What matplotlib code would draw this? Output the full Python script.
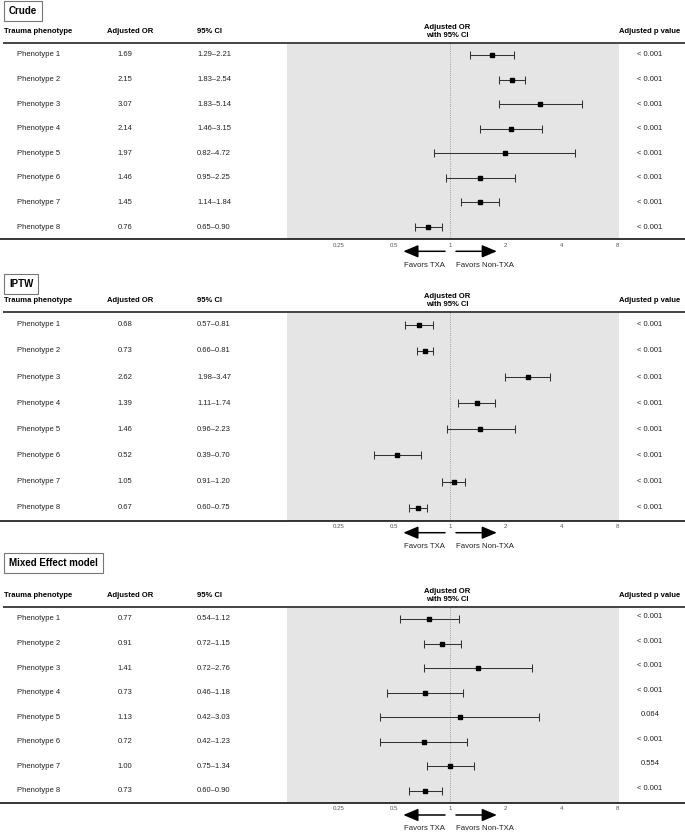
import matplotlib
matplotlib.use("Agg")
import matplotlib.pyplot as plt
from matplotlib.transforms import blended_transform_factory as blend

plt.rcParams['font.family'] = ['Liberation Sans', 'DejaVu Sans']

phenotypes = ["Phenotype %d" % i for i in range(1, 9)]

crude_or = [1.69, 2.15, 3.07, 2.14, 1.97, 1.46, 1.45, 0.76]
crude_lo = [1.29, 1.83, 1.83, 1.46, 0.82, 0.95, 1.14, 0.65]
crude_hi = [2.21, 2.54, 5.14, 3.15, 4.72, 2.25, 1.84, 0.90]
crude_p = ["< 0.001"] * 8

iptw_or = [0.68, 0.73, 2.62, 1.39, 1.46, 0.52, 1.05, 0.67]
iptw_lo = [0.57, 0.66, 1.98, 1.11, 0.96, 0.39, 0.91, 0.60]
iptw_hi = [0.81, 0.81, 3.47, 1.74, 2.23, 0.70, 1.20, 0.75]
iptw_p = ["< 0.001"] * 8

mixed_or = [0.77, 0.91, 1.41, 0.73, 1.13, 0.72, 1.00, 0.73]
mixed_lo = [0.54, 0.72, 0.72, 0.46, 0.42, 0.42, 0.75, 0.60]
mixed_hi = [1.12, 1.15, 2.76, 1.18, 3.03, 1.23, 1.34, 0.90]
mixed_p = ["< 0.001", "< 0.001", "< 0.001", "< 0.001", "0.064", "< 0.001", "0.554", "< 0.001"]

ticks = [0.25, 0.5, 1, 2, 4, 8]
tick_labels = ["0.25", "0.5", "1", "2", "4", "8"]

W, H = 685, 833
fig = plt.figure(figsize=(W / 100, H / 100), dpi=100)

# panel: title, box center y, top line y, bottom line y (pixels), data, p offset
panels = [
    ("Crude", 11, 42.7, 239.3, crude_or, crude_lo, crude_hi, crude_p, 0.0),
    ("IPTW", 284, 311.7, 520.7, iptw_or, iptw_lo, iptw_hi, iptw_p, 0.0),
    ("Mixed Effect model", 563, 606.7, 803.0, mixed_or, mixed_lo, mixed_hi, mixed_p, -0.1),
]

x0, x1 = 287, 619
xlo = 2 ** ((x0 - 450) / 55.8)
xhi = 2 ** ((x1 - 450) / 55.8)
txt = '#222222'

for title, box_y, top, bot, orv, lo, hi, pv, poff in panels:
    hpx = bot - top
    rowh = hpx / 8
    ax = fig.add_axes([x0 / W, 1 - bot / H, (x1 - x0) / W, hpx / H])
    ax.set_facecolor('#e5e5e5')
    ax.set_xscale('log', base=2)
    ax.set_xlim(xlo, xhi)
    ax.set_ylim(8.5, 0.5)
    for s in ax.spines.values():
        s.set_visible(False)
    ax.set_yticks([])
    ax.set_xticks(ticks)
    ax.set_xticklabels(tick_labels)
    ax.xaxis.set_minor_locator(matplotlib.ticker.NullLocator())
    ax.tick_params(axis='x', length=0, pad=2.5, labelsize=4.4, labelcolor='#555555')

    rows = list(range(1, 9))
    ax.axvline(1, color='#888888', lw=0.6, ls=':')
    err = [[o - l for o, l in zip(orv, lo)], [h - o for o, h in zip(orv, hi)]]
    ax.errorbar(orv, rows, xerr=err, fmt='s', color='black', ms=3,
                ecolor='#333333', elinewidth=0.75, capsize=3, capthick=0.75)

    tr = blend(fig.transFigure, ax.transData)
    hy = 0.5 - 11 / rowh
    ax.text(4 / W, hy, "Trauma phenotype", transform=tr, fontsize=5.5, fontweight='bold',
            ha='left', va='center', color='black')
    ax.text(130 / W, hy, "Adjusted OR", transform=tr, fontsize=5.5, fontweight='bold',
            ha='center', va='center', color='black')
    ax.text(197 / W, hy, "95% CI", transform=tr, fontsize=5.5, fontweight='bold',
            ha='left', va='center', color='black')
    ax.text(447 / W, hy, "Adjusted OR\nwith 95% CI", transform=tr, fontsize=5.5,
            fontweight='bold', ha='center', va='center', color='black', linespacing=1.1)
    ax.text(650 / W, hy, "Adjusted p value", transform=tr, fontsize=5.5, fontweight='bold',
            ha='center', va='center', color='black')

    for r, name, o, l, h, p in zip(rows, phenotypes, orv, lo, hi, pv):
        ax.text(17 / W, r, name, transform=tr, fontsize=5.5, ha='left', va='center', color=txt)
        ax.text(125 / W, r, "%.2f" % o, transform=tr, fontsize=5.5, ha='center', va='center', color=txt)
        ax.text(197 / W, r, "%.2f\u2013%.2f" % (l, h), transform=tr, fontsize=5.5,
                ha='left', va='center', color=txt)
        ax.text(650 / W, r + poff, p, transform=tr, fontsize=5.5, ha='center', va='center', color=txt)

    # horizontal rules
    lt = blend(fig.transFigure, ax.transAxes)
    ax.plot([0.004, 1], [1, 1], transform=lt, color='#444444', lw=1.4, clip_on=False,
            solid_capstyle='butt')
    ax.plot([0, 1], [0, 0], transform=lt, color='black', lw=1.1, clip_on=False,
            solid_capstyle='butt')

    # favors arrows
    at = blend(ax.transData, ax.transAxes)
    ya = -12 / hpx
    ax.annotate('', xy=(0.56, ya), xytext=(0.94, ya), xycoords=at, textcoords=at,
                arrowprops=dict(arrowstyle='-|>,head_length=0.9,head_width=0.38',
                                color='black', lw=1.1, shrinkA=0, shrinkB=0, mutation_scale=10),
                annotation_clip=False)
    ax.annotate('', xy=(1.79, ya), xytext=(1.077, ya), xycoords=at, textcoords=at,
                arrowprops=dict(arrowstyle='-|>,head_length=0.9,head_width=0.38',
                                color='black', lw=1.1, shrinkA=0, shrinkB=0, mutation_scale=10),
                annotation_clip=False)
    yt = -26 / hpx
    ax.text(0.94, yt, "Favors TXA", transform=at, fontsize=5.6, ha='right', va='center', color=txt)
    ax.text(1.077, yt, "Favors Non-TXA", transform=at, fontsize=5.6, ha='left', va='center', color=txt)

    # panel label box
    fig.text(9 / W, 1 - box_y / H, title, fontsize=7, fontweight='bold', ha='left', va='center',
             bbox=dict(boxstyle='square,pad=0.5', fc='white', ec='#777777', lw=0.8))

fig.savefig("out.png", dpi=100)
